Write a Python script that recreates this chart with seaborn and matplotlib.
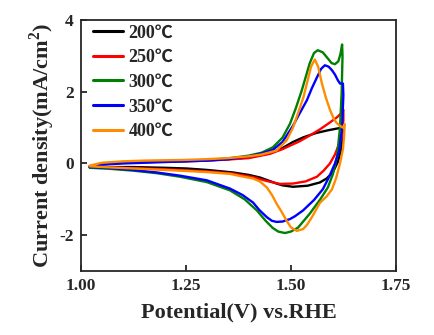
import matplotlib
matplotlib.use("Agg")
import matplotlib.pyplot as plt
import seaborn as sns
import pandas as pd

# Cyclic voltammograms (forward scan then reverse scan), potential in V vs. RHE
labels = ["200℃", "250℃", "300℃", "350℃", "400℃"]
colors = ["#000000", "#ff0000", "#008000", "#0000ff", "#ff8c00"]

v200 = [1.021, 1.05, 1.10, 1.15, 1.20, 1.25, 1.30, 1.35, 1.40, 1.45, 1.48, 1.505, 1.53, 1.56, 1.59, 1.617, 1.624,
        1.624, 1.62, 1.612, 1.600, 1.585, 1.569, 1.54, 1.505, 1.48, 1.466, 1.445, 1.426, 1.40, 1.362, 1.30, 1.252,
        1.20, 1.124, 1.07, 1.021]
j200 = [-0.08, 0.0, 0.04, 0.05, 0.06, 0.07, 0.09, 0.12, 0.17, 0.28, 0.43, 0.60, 0.73, 0.85, 0.93, 0.99, 1.0,
        0.8, 0.4, 0.05, -0.25, -0.42, -0.53, -0.62, -0.65, -0.61, -0.56, -0.47, -0.39, -0.32, -0.25, -0.18, -0.14,
        -0.12, -0.10, -0.10, -0.08]

v250 = [1.021, 1.05, 1.10, 1.15, 1.20, 1.25, 1.30, 1.35, 1.40, 1.45, 1.48, 1.521, 1.545, 1.569, 1.59, 1.609, 1.62, 1.625,
        1.625, 1.62, 1.605, 1.593, 1.578, 1.562, 1.535, 1.505, 1.474, 1.443, 1.41, 1.362, 1.30, 1.252, 1.20, 1.124, 1.021]
j250 = [-0.09, -0.02, 0.02, 0.04, 0.05, 0.06, 0.08, 0.11, 0.15, 0.27, 0.40, 0.62, 0.78, 0.95, 1.12, 1.28, 1.40, 1.50,
        1.2, 0.7, 0.25, 0.0, -0.2, -0.37, -0.50, -0.56, -0.57, -0.49, -0.38, -0.28, -0.22, -0.19, -0.16, -0.13, -0.10]

v300 = [1.021, 1.05, 1.10, 1.15, 1.20, 1.25, 1.30, 1.35, 1.40, 1.43, 1.457, 1.48, 1.498, 1.512, 1.526, 1.545, 1.555,
        1.564, 1.576, 1.588, 1.597, 1.605, 1.613, 1.618, 1.622,
        1.623, 1.621, 1.617, 1.61, 1.60, 1.588, 1.57, 1.545, 1.517, 1.50, 1.486, 1.47, 1.457, 1.44, 1.419, 1.39, 1.355,
        1.30, 1.236, 1.18, 1.124, 1.07, 1.021]
j300 = [-0.10, -0.02, 0.02, 0.04, 0.05, 0.07, 0.10, 0.14, 0.22, 0.30, 0.45, 0.72, 1.11, 1.55, 2.04, 2.80, 3.08,
        3.16, 3.10, 2.93, 2.80, 2.77, 2.85, 3.05, 3.32,
        3.0, 2.0, 1.0, 0.2, -0.3, -0.67, -1.0, -1.40, -1.79, -1.90, -1.94, -1.90, -1.80, -1.60, -1.31, -1.0, -0.75,
        -0.52, -0.37, -0.27, -0.20, -0.15, -0.12]

v350 = [1.021, 1.05, 1.10, 1.15, 1.20, 1.25, 1.30, 1.35, 1.40, 1.43, 1.457, 1.48, 1.505, 1.52, 1.538, 1.55, 1.562,
        1.572, 1.581, 1.59, 1.598, 1.605, 1.612, 1.617, 1.624,
        1.625, 1.622, 1.615, 1.605, 1.59, 1.576, 1.555, 1.529, 1.51, 1.498, 1.48, 1.466, 1.455, 1.443, 1.425, 1.41,
        1.385, 1.355, 1.30, 1.236, 1.18, 1.124, 1.07, 1.021]
j350 = [-0.09, -0.03, 0.0, 0.02, 0.04, 0.06, 0.08, 0.12, 0.20, 0.28, 0.38, 0.60, 1.05, 1.38, 1.76, 2.10, 2.40,
        2.64, 2.74, 2.70, 2.60, 2.48, 2.32, 2.23, 2.23,
        1.9, 1.0, 0.35, 0.0, -0.4, -0.72, -1.02, -1.31, -1.47, -1.55, -1.62, -1.63, -1.60, -1.50, -1.30, -1.09,
        -0.88, -0.70, -0.47, -0.34, -0.25, -0.18, -0.13, -0.10]

v400 = [1.021, 1.05, 1.10, 1.15, 1.20, 1.25, 1.30, 1.35, 1.40, 1.43, 1.466, 1.49, 1.505, 1.517, 1.53, 1.540, 1.548,
        1.557, 1.565, 1.574, 1.583, 1.593, 1.602, 1.609, 1.617, 1.624, 1.628,
        1.627, 1.624, 1.617, 1.608, 1.598, 1.585, 1.569, 1.55, 1.538, 1.529, 1.514, 1.50, 1.49, 1.478, 1.466, 1.455,
        1.443, 1.426, 1.41, 1.379, 1.355, 1.30, 1.236, 1.18, 1.124, 1.07, 1.021]
j400 = [-0.06, 0.02, 0.06, 0.08, 0.09, 0.10, 0.12, 0.15, 0.20, 0.25, 0.36, 0.65, 1.0, 1.4, 1.85, 2.32, 2.70,
        2.90, 2.70, 2.23, 1.85, 1.50, 1.25, 1.13, 1.05, 1.0, 1.1,
        0.8, 0.4, 0.0, -0.4, -0.72, -0.92, -1.10, -1.50, -1.72, -1.83, -1.88, -1.78, -1.60, -1.35, -1.12, -0.88,
        -0.67, -0.50, -0.42, -0.35, -0.29, -0.24, -0.20, -0.17, -0.14, -0.11, -0.08]

xticks = [1.00, 1.25, 1.50, 1.75]
xtick_labels = ["1.00", "1.25", "1.50", "1.75"]
yticks = [-2, 0, 2, 4]
ytick_labels = ["-2", "0", "2", "4"]

frames = []
for lab, v, j in zip(labels, [v200, v250, v300, v350, v400], [j200, j250, j300, j350, j400]):
    frames.append(pd.DataFrame({"E": v, "J": j, "T": lab, "step": range(len(v))}))
df = pd.concat(frames, ignore_index=True)

sns.set_theme(style="ticks")
serif = ["Liberation Serif", "Noto Sans CJK SC", "DejaVu Sans"]
plt.rcParams["font.family"] = serif
plt.rcParams["font.weight"] = "bold"
plt.rcParams["axes.linewidth"] = 1.3
plt.rcParams["mathtext.fontset"] = "custom"
plt.rcParams["mathtext.rm"] = "Liberation Serif:bold"
plt.rcParams["mathtext.bf"] = "Liberation Serif:bold"

fig = plt.figure(figsize=(4.35, 3.35), dpi=100)
ax = fig.add_axes([0.186, 0.191, 0.724, 0.749])

sns.lineplot(data=df, x="E", y="J", hue="T", hue_order=labels, palette=colors,
             sort=False, estimator=None, units="T", linewidth=1.7, ax=ax)

ax.set_xlim(1.0, 1.75)
ax.set_ylim(-3, 4)
ax.set_xticks(xticks)
ax.set_xticklabels(xtick_labels)
ax.set_yticks(yticks)
ax.set_yticklabels(ytick_labels)
ax.tick_params(direction="in", length=4, width=1.3, labelsize=12.5, pad=5,
               top=False, right=False)
for t in ax.get_xticklabels() + ax.get_yticklabels():
    t.set_fontweight("bold")

ax.set_xlabel("Potential(V) vs.RHE", fontsize=16, fontweight="bold", labelpad=6)
ax.set_ylabel("Current density(mA/cm$^2$)", fontsize=16, fontweight="bold", labelpad=2)

leg = ax.legend(loc="upper left", bbox_to_anchor=(0.025, 1.0), frameon=False,
                handlelength=1.65, handletextpad=0.3, labelspacing=0.42,
                borderaxespad=0.1, borderpad=0.15,
                prop={"family": serif, "weight": "bold", "size": 13})
for line in leg.get_lines():
    line.set_linewidth(2.2)

fig.savefig("out.png", dpi=100)
